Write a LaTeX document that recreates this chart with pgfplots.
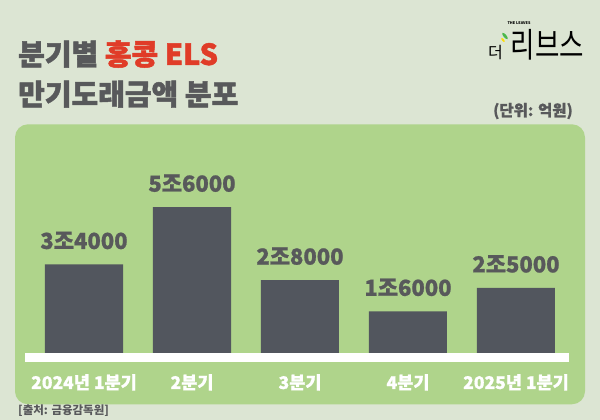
\documentclass[border=0pt]{standalone}
\usepackage{pgfplots}
\pgfplotsset{compat=1.18}
\usepackage{fontspec}
\setmainfont{Noto Sans CJK KR}
\newfontfamily\heavy{Noto Sans CJK KR}[BoldFeatures={FakeBold=1.6}]
\newfontfamily\semiheavy{Noto Sans CJK KR}[BoldFeatures={FakeBold=0.9}]
\definecolor{bg}{HTML}{DCE5D3}
\definecolor{panel}{HTML}{AFD48B}
\definecolor{barc}{HTML}{52565E}
\definecolor{txt}{HTML}{58595B}
\definecolor{hred}{HTML}{E03C28}
\begin{document}
\begin{tikzpicture}[x=1pt,y=1pt]
\fill[bg] (0,0) rectangle (600,420);
\fill[panel, rounded corners=13pt] (15,15.7) rectangle (585,295.7);
\fill[white] (25,58) rectangle (569,67.3);
\begin{axis}[
  at={(30pt,67pt)}, anchor=south west,
  scale only axis, width=540pt, height=208.4pt,
  xmin=-0.5, xmax=4.5, ymin=0, ymax=80000,
  axis line style={draw=none}, tick style={draw=none},
  ytick=\empty, xtick=data, major tick length=0pt,
  xticklabels={2024년 1분기, 2분기, 3분기, 4분기, 2025년 1분기},
  xticklabel style={font=\fontsize{17.5}{20}\selectfont\semiheavy\bfseries, text=white, anchor=base, yshift=-36pt},
  ybar, bar width=78pt,
  nodes near coords, point meta=explicit symbolic,
  nodes near coords style={font=\fontsize{22}{26}\selectfont\semiheavy\bfseries, text=txt, anchor=base, yshift=15.5pt},
  clip=false,
]
\addplot[fill=barc, draw=none] coordinates {(0,34000)[3조4000] (1,56000)[5조6000] (2,28000)[2조8000] (3,16000)[1조6000] (4,25000)[2조5000]};
\end{axis}
\node[anchor=base west, inner sep=0, text=txt, font=\fontsize{29}{34}\selectfont\heavy\bfseries] at (18,355) {분기별 \textcolor{hred}{홍콩 ELS}};
\node[anchor=base west, inner sep=0, text=txt, font=\fontsize{29}{34}\selectfont\heavy\bfseries] at (18,315) {만기도래금액 분포};
\node[anchor=base east, inner sep=0, text=txt, font=\fontsize{15.5}{18}\selectfont\semiheavy\bfseries] at (573,304) {(단위: 억원)};
\node[anchor=base west, inner sep=0, text=txt, font=\fontsize{11.5}{13}\selectfont\bfseries] at (18,5) {[출처: 금융감독원]};
\node[anchor=base east, inner sep=0, text=black, font=\fontsize{34}{36}\selectfont, xscale=0.78] at (584,362) {리브스};
\node[anchor=base west, inner sep=0, text=black, font=\fontsize{16}{17}\selectfont] at (488,361) {더};
\node[inner sep=0, text=black, font=\fontsize{3.8}{4.5}\selectfont\bfseries] at (519,397) {THE LEAVES};
\fill[green!60!black!70, rotate around={40:(505,384)}] (505,384) ellipse (1.5 and 4);
\fill[yellow!80!orange, rotate around={40:(503,380)}] (503,380) ellipse (1 and 2.5);
\end{tikzpicture}
\end{document}
